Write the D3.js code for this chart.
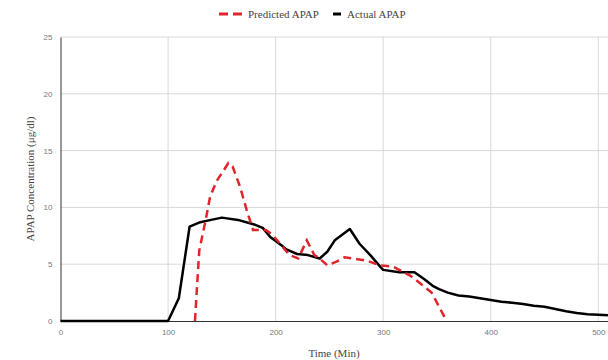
<!DOCTYPE html>
<html>
<head>
<meta charset="utf-8">
<script src="https://cdn.jsdelivr.net/npm/d3@7"></script>
<style>
  body { margin: 0; background: #fff; }
  .tick text { font-family: "Liberation Sans", Arial, sans-serif; font-size: 8px; fill: #777; }
  .lbl { font-family: "Liberation Serif", "Times New Roman", serif; font-size: 11px; fill: #444; }
</style>
</head>
<body>
<div id="chart"></div>
<script>
// data
const actualTime = [0, 100, 110, 120, 130, 140, 150, 165, 180, 188, 195, 205, 210, 220, 230, 241, 248, 255, 269, 278, 288, 298, 300, 315, 329, 338, 346, 352, 360, 370, 380, 390, 400, 410, 420, 430, 440, 450, 460, 470, 480, 490, 500, 509];
const actualVal = [0, 0, 2.0, 8.3, 8.7, 8.9, 9.1, 8.9, 8.5, 8.2, 7.4, 6.7, 6.3, 5.9, 5.8, 5.5, 6.1, 7.1, 8.1, 6.8, 5.8, 4.7, 4.5, 4.3, 4.3, 3.7, 3.1, 2.8, 2.5, 2.25, 2.15, 2.0, 1.85, 1.7, 1.6, 1.5, 1.35, 1.25, 1.05, 0.85, 0.7, 0.6, 0.55, 0.5];

const predTime = [125, 129, 135, 139, 145, 152, 156, 160, 167, 173, 179, 191, 197, 205, 213, 221, 229, 236, 241, 248, 256, 264, 272, 285, 297, 309, 325, 336, 345, 359];
const predVal = [0, 6.2, 8.9, 10.9, 12.3, 13.3, 13.9, 13.6, 11.8, 9.8, 8.0, 8.0, 7.6, 6.7, 5.8, 5.5, 7.1, 5.8, 5.5, 4.9, 5.2, 5.6, 5.5, 5.3, 4.9, 4.8, 4.0, 3.2, 2.5, 0];

const xTicks = [0, 100, 200, 300, 400, 500];
const yTicks = [0, 5, 10, 15, 20, 25];

const width = 608;
const height = 360;
const margin = { top: 37, right: 0, bottom: 39, left: 60.5 };

const svg = d3.select("#chart")
  .append("svg")
  .attr("width", width)
  .attr("height", height);

const x = d3.scaleLinear()
  .domain([0, 509])
  .range([margin.left, width - margin.right]);

const y = d3.scaleLinear()
  .domain([0, 25])
  .range([height - margin.bottom, margin.top]);

// gridlines
svg.append("g")
  .selectAll("line.vg")
  .data(xTicks.filter(d => d > 0))
  .enter()
  .append("line")
  .attr("x1", d => x(d)).attr("x2", d => x(d))
  .attr("y1", y(0)).attr("y2", y(25))
  .attr("stroke", "#d9d9d9");

svg.append("g")
  .selectAll("line.hg")
  .data(yTicks.filter(d => d > 0))
  .enter()
  .append("line")
  .attr("x1", x(0)).attr("x2", width)
  .attr("y1", d => y(d)).attr("y2", d => y(d))
  .attr("stroke", "#d9d9d9");

// axes
const xAxis = svg.append("g")
  .attr("transform", `translate(0,${y(0)})`)
  .call(d3.axisBottom(x).tickValues(xTicks).tickSize(0).tickPadding(8));
xAxis.select(".domain").attr("stroke", "#333");

const yAxis = svg.append("g")
  .attr("transform", `translate(${x(0)},0)`)
  .call(d3.axisLeft(y).tickValues(yTicks).tickSize(0).tickPadding(8));
yAxis.select(".domain").attr("stroke", "#333");

// lines
const line = d3.line()
  .x(d => x(d[0]))
  .y(d => y(d[1]));

svg.append("path")
  .datum(actualTime.map((t, i) => [t, actualVal[i]]))
  .attr("fill", "none")
  .attr("stroke", "#000")
  .attr("stroke-width", 2.5)
  .attr("stroke-linejoin", "round")
  .attr("d", line);

svg.append("path")
  .datum(predTime.map((t, i) => [t, predVal[i]]))
  .attr("fill", "none")
  .attr("stroke", "#e0242b")
  .attr("stroke-width", 2.5)
  .attr("stroke-dasharray", "8,5")
  .attr("d", line);

// axis titles
svg.append("text")
  .attr("class", "lbl")
  .attr("x", 334)
  .attr("y", 357)
  .attr("text-anchor", "middle")
  .text("Time (Min)");

svg.append("text")
  .attr("class", "lbl")
  .attr("transform", `translate(34,${(y(0) + y(25)) / 2}) rotate(-90)`)
  .attr("text-anchor", "middle")
  .text("APAP Concentration (μg/dl)");

// legend
const legend = svg.append("g");
legend.append("line")
  .attr("x1", 219).attr("x2", 242)
  .attr("y1", 14).attr("y2", 14)
  .attr("stroke", "#e0242b")
  .attr("stroke-width", 3)
  .attr("stroke-dasharray", "9,5");
legend.append("text")
  .attr("class", "lbl")
  .attr("x", 248).attr("y", 18)
  .text("Predicted APAP");
legend.append("line")
  .attr("x1", 333).attr("x2", 341)
  .attr("y1", 14).attr("y2", 14)
  .attr("stroke", "#000")
  .attr("stroke-width", 3);
legend.append("text")
  .attr("class", "lbl")
  .attr("x", 347).attr("y", 18)
  .text("Actual APAP");
</script>
</body>
</html>
